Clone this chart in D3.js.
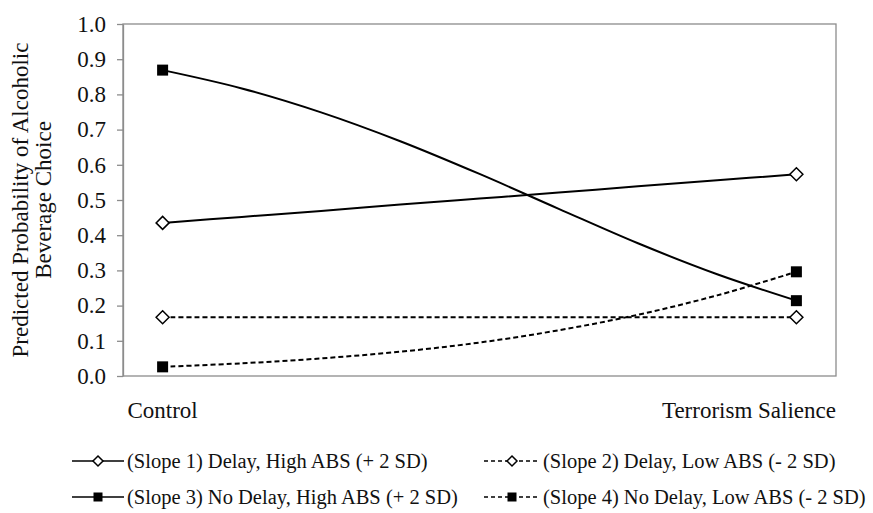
<!DOCTYPE html>
<html>
<head>
<meta charset="utf-8">
<script src="https://cdn.jsdelivr.net/npm/d3@7/dist/d3.min.js"></script>
<style>
  html, body { margin: 0; padding: 0; background: #fff; }
  svg { display: block; font-family: "Liberation Serif", "Times New Roman", serif; }
</style>
</head>
<body>
<svg id="chart" width="873" height="513"></svg>
<script>
// ---- data ----
const categoryLabels = ["Control", "", "", "", "", "", "", "", "Terrorism Salience"];
const slope1 = [0.435, 0.452, 0.469, 0.487, 0.504, 0.521, 0.539, 0.556, 0.573]; // Delay, High ABS
const slope2 = [0.167, 0.167, 0.167, 0.167, 0.167, 0.167, 0.167, 0.167, 0.167]; // Delay, Low ABS
const slope3 = [0.869, 0.817, 0.749, 0.667, 0.574, 0.475, 0.377, 0.289, 0.214]; // No Delay, High ABS
const slope4 = [0.026, 0.036, 0.050, 0.069, 0.095, 0.130, 0.174, 0.229, 0.296]; // No Delay, Low ABS
const seriesNames = [
  "(Slope 1) Delay, High ABS (+ 2 SD)",
  "(Slope 2) Delay, Low ABS (- 2 SD)",
  "(Slope 3) No Delay, High ABS (+ 2 SD)",
  "(Slope 4) No Delay, Low ABS (- 2 SD)"
];
const yTicks = [0, 0.1, 0.2, 0.3, 0.4, 0.5, 0.6, 0.7, 0.8, 0.9, 1.0];
const yTitle = ["Predicted Probability of Alcoholic", "Beverage Choice"];

// ---- layout ----
const svg = d3.select("#chart");
const plot = { left: 123, right: 836, top: 24, bottom: 376 };

const x = d3.scalePoint()
  .domain(d3.range(categoryLabels.length))
  .range([plot.left, plot.right])
  .padding(0.5);
const y = d3.scaleLinear().domain([0, 1]).range([plot.bottom, plot.top]);

const series = [
  { name: seriesNames[0], values: slope1, dash: null, marker: "diamond" },
  { name: seriesNames[1], values: slope2, dash: "5,3", marker: "diamond" },
  { name: seriesNames[2], values: slope3, dash: null, marker: "square" },
  { name: seriesNames[3], values: slope4, dash: "5,3", marker: "square" }
];

// plot border
svg.append("rect")
  .attr("x", plot.left).attr("y", plot.top)
  .attr("width", plot.right - plot.left).attr("height", plot.bottom - plot.top)
  .attr("fill", "none").attr("stroke", "#8c8c8c").attr("stroke-width", 1.3);

// y axis
const yAxis = svg.append("g")
  .attr("transform", `translate(${plot.left},0)`)
  .call(d3.axisLeft(y).tickValues(yTicks).tickFormat(d3.format(".1f")).tickSize(6).tickSizeOuter(0).tickPadding(11));
yAxis.select(".domain").attr("stroke", "#8c8c8c").attr("stroke-width", 1.3);
yAxis.selectAll(".tick line").attr("stroke", "#8c8c8c").attr("stroke-width", 1.3);
yAxis.selectAll(".tick text")
  .attr("font-family", "Liberation Serif, Times New Roman, serif")
  .attr("font-size", 23).attr("fill", "#111");

// y title
yTitle.forEach((t, i) => {
  svg.append("text")
    .attr("transform", `translate(${28 + i * 23},${(plot.top + plot.bottom) / 2}) rotate(-90)`)
    .attr("text-anchor", "middle")
    .attr("font-size", 23).attr("fill", "#111")
    .text(t);
});

// category labels
categoryLabels.forEach((t, i) => {
  if (!t) return;
  const last = i === categoryLabels.length - 1;
  svg.append("text")
    .attr("x", last ? plot.right : x(i))
    .attr("y", 418)
    .attr("text-anchor", last ? "end" : "middle")
    .attr("font-size", 23).attr("fill", "#111")
    .text(t);
});

// lines
const line = d3.line()
  .x((d, i) => x(i))
  .y(d => y(d))
  .curve(d3.curveCatmullRom.alpha(0.5));

function drawMarker(g, type, cx, cy, size) {
  if (type === "diamond") {
    const r = size / 2;
    g.append("path")
      .attr("d", `M${cx},${cy - r}L${cx + r},${cy}L${cx},${cy + r}L${cx - r},${cy}Z`)
      .attr("fill", "#fff").attr("stroke", "#000").attr("stroke-width", 1.5);
  } else {
    g.append("rect")
      .attr("x", cx - size / 2).attr("y", cy - size / 2)
      .attr("width", size).attr("height", size)
      .attr("fill", "#000");
  }
}

series.forEach(s => {
  svg.append("path")
    .datum(s.values)
    .attr("d", line)
    .attr("fill", "none").attr("stroke", "#000").attr("stroke-width", 2)
    .attr("stroke-dasharray", s.dash);
  const g = svg.append("g");
  const last = s.values.length - 1;
  [0, last].forEach(i => {
    drawMarker(g, s.marker, x(i), y(s.values[i]), s.marker === "diamond" ? 13 : 11);
  });
});

// legend
const legendPos = [
  { x0: 72, x1: 124, tx: 127, y: 461 },
  { x0: 484, x1: 540, tx: 543, y: 461 },
  { x0: 72, x1: 124, tx: 127, y: 497 },
  { x0: 484, x1: 540, tx: 543, y: 497 }
];
series.forEach((s, i) => {
  const p = legendPos[i];
  const g = svg.append("g");
  g.append("line")
    .attr("x1", p.x0).attr("x2", p.x1).attr("y1", p.y).attr("y2", p.y)
    .attr("stroke", "#000").attr("stroke-width", 1.6)
    .attr("stroke-dasharray", s.dash ? "4,3" : null);
  drawMarker(g, s.marker, (p.x0 + p.x1) / 2, p.y, s.marker === "diamond" ? 10 : 9);
  g.append("text")
    .attr("x", p.tx).attr("y", p.y)
    .attr("dy", "0.33em")
    .attr("font-size", 20.5).attr("fill", "#111")
    .text(s.name);
});
</script>
</body>
</html>
